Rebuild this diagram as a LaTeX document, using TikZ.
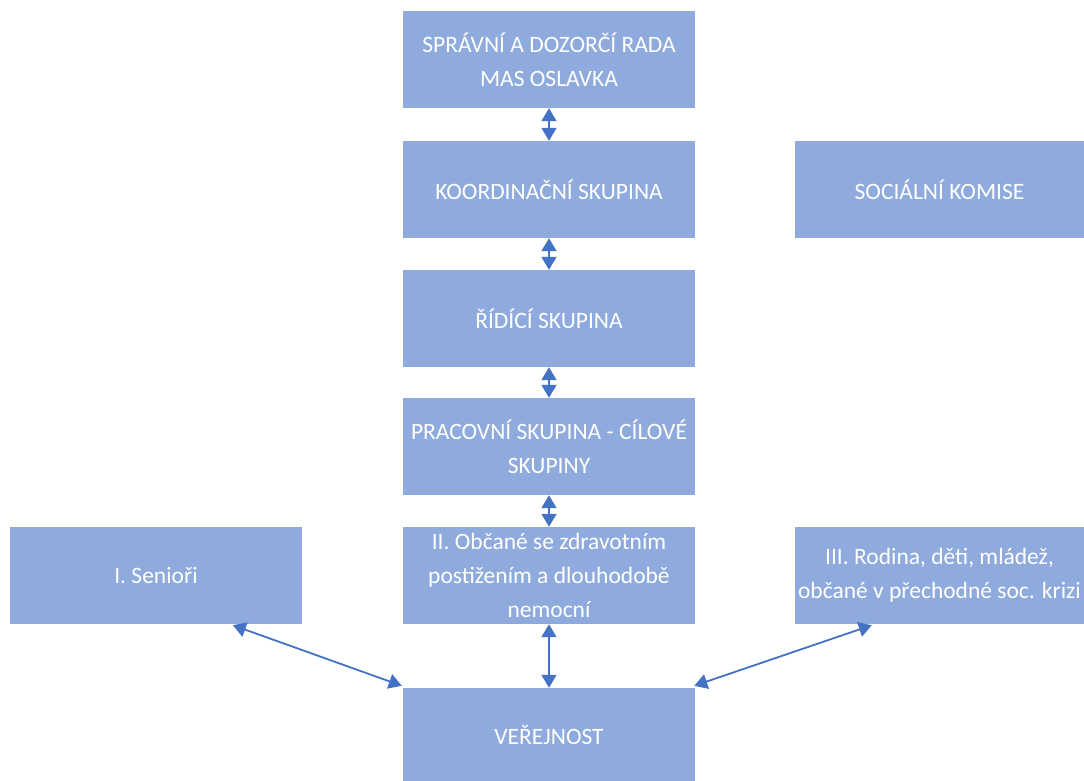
\documentclass[tikz,border=0pt]{standalone}
\usepackage{fontspec}
\setmainfont{Carlito}
\usetikzlibrary{arrows.meta}
\definecolor{boxfill}{HTML}{8FAADC}
\definecolor{arrowblue}{HTML}{4472C4}
\begin{document}
\begin{tikzpicture}[x=1pt,y=-1pt,
  box/.style={fill=boxfill,draw=none,text=white,align=center,
    font=\fontsize{23.5}{34}\selectfont,inner sep=0pt},
  link/.style={draw=arrowblue,line width=1.8pt,
    {Triangle[length=13pt,width=15pt]}-{Triangle[length=13pt,width=15pt]}}]
\useasboundingbox (0,0) rectangle (1084,781);
\newcommand{\mybox}[6]{%
  \node[box,minimum width={#4-#2},minimum height={#5-#3}] (#1) at ({(#2+#4)/2},{(#3+#5)/2}) {#6};}
\mybox{rada}{403}{11}{695}{108}{SPRÁVNÍ A DOZORČÍ RADA\\MAS OSLAVKA}
\mybox{koord}{403}{141}{695}{238}{KOORDINAČNÍ SKUPINA}
\mybox{soc}{795}{141}{1084}{238}{SOCIÁLNÍ KOMISE}
\mybox{ridici}{403}{270}{695}{367}{ŘÍDÍCÍ SKUPINA}
\mybox{prac}{403}{398}{695}{495}{PRACOVNÍ SKUPINA - CÍLOVÉ\\SKUPINY}
\mybox{obcane}{403}{527}{695}{624}{II. Občané se zdravotním\\postižením a dlouhodobě\\nemocní}
\mybox{seniori}{10}{527}{302}{624}{I. Senioři}
\mybox{rodina}{795}{527}{1084}{624}{III. Rodina, děti, mládež,\\občané v přechodné soc. krizi}
\mybox{verej}{403}{688}{695}{781}{VEŘEJNOST}
\draw[link] (rada.south) -- (koord.north);
\draw[link] (koord.south) -- (ridici.north);
\draw[link] (ridici.south) -- (prac.north);
\draw[link] (prac.south) -- (obcane.north);
\draw[link] (obcane.south) -- (verej.north);
\draw[link] ([xshift=223pt,yshift=-1pt]seniori.south west) -- ([xshift=-1pt,yshift=2pt]verej.north west);
\draw[link] ([xshift=77pt,yshift=-1pt]rodina.south west) -- ([xshift=-1pt,yshift=2pt]verej.north east);
\end{tikzpicture}
\end{document}
